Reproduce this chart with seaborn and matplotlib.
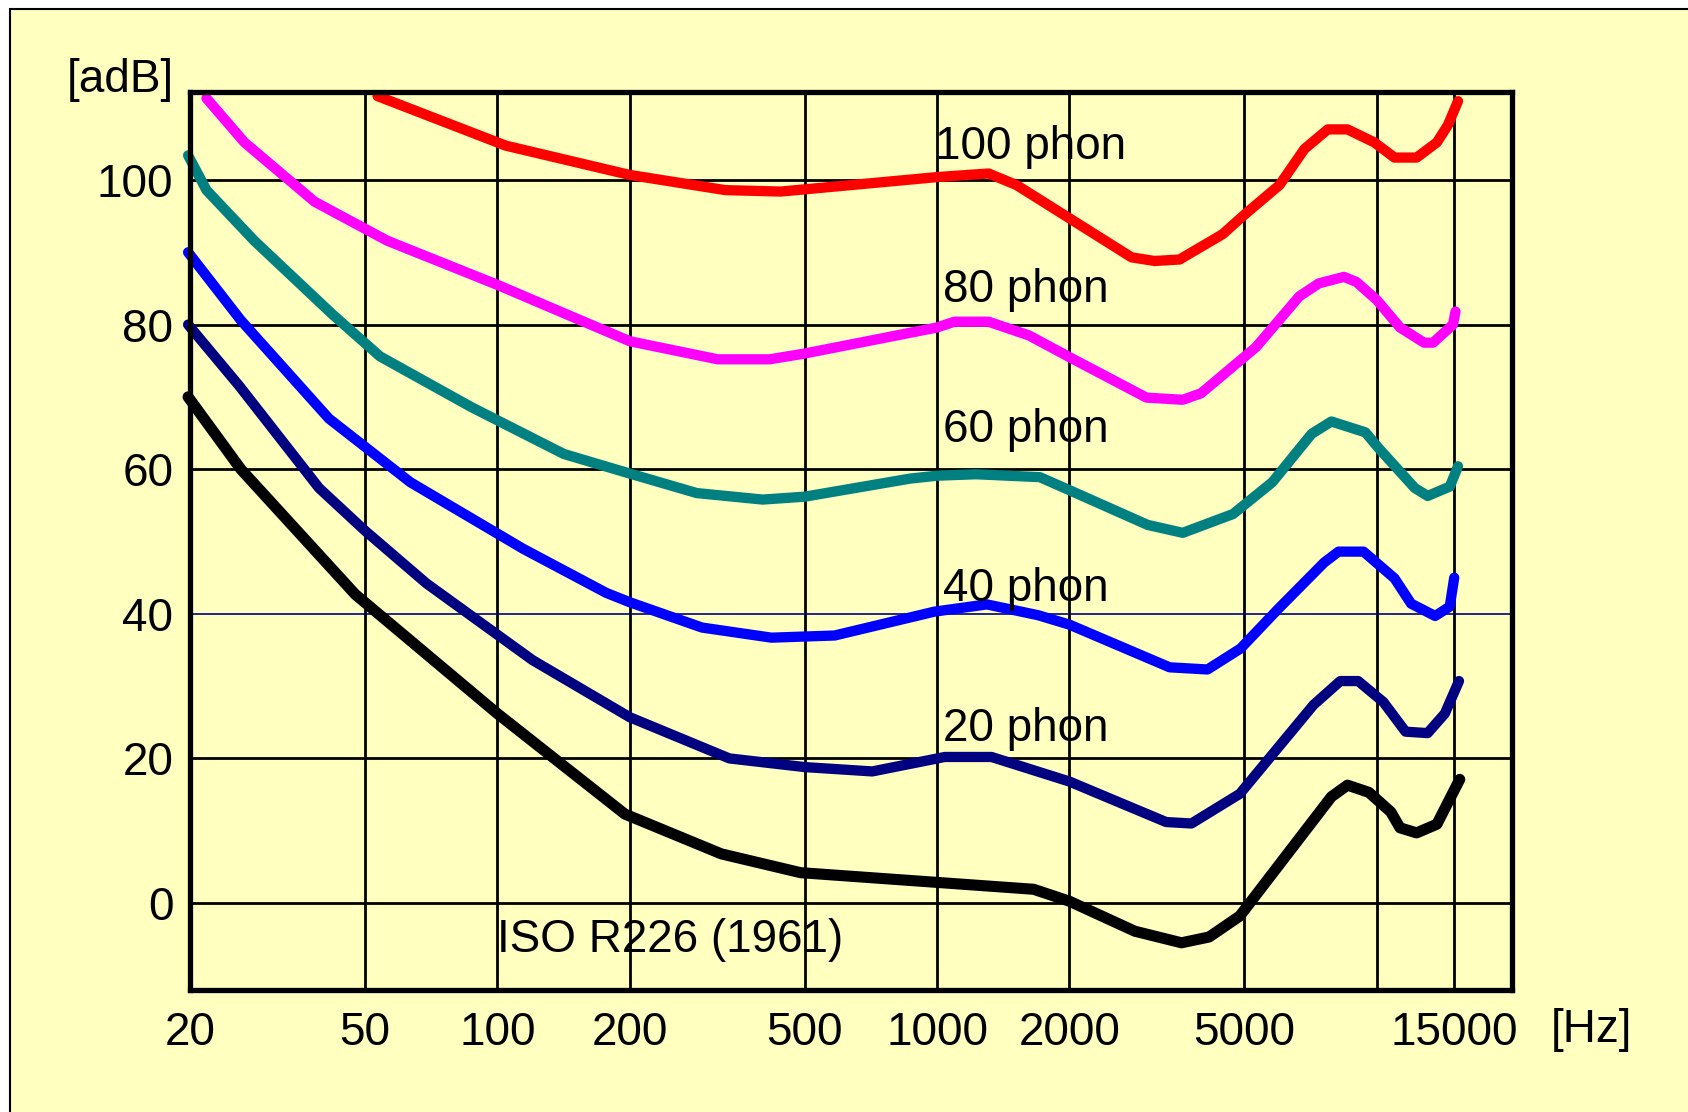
import matplotlib
matplotlib.use("Agg")
import matplotlib.pyplot as plt
import matplotlib.patches as mpatches
import pandas as pd
import seaborn as sns

hz_100 = [53.4, 104.5, 200, 330, 441, 1000, 1309, 1516, 2000, 2769, 3124, 3559, 4460, 5000,
          6008, 6849, 7737, 8578, 9870, 10971, 12320, 13698, 14515, 15300]
db_100 = [111.6, 104.75, 100.7, 98.6, 98.4, 100.4, 100.9, 99.3, 94.7, 89.3, 88.8, 89.0, 92.5, 95.2,
          99.3, 104.3, 107.0, 107.0, 105.2, 103.1, 103.1, 105.2, 107.6, 110.9]

hz_80 = [21.8, 26.6, 38.4, 56.2, 100, 200, 317, 416, 500, 1000, 1094, 1309, 1618, 2000, 2994,
         3620, 3984, 5316, 6662, 7382, 8418, 8988, 10000, 11293, 12808, 13430, 14900, 15100]
db_80 = [111.3, 105.2, 97.0, 91.6, 85.5, 77.7, 75.2, 75.2, 76.0, 79.6, 80.4, 80.4, 78.5, 75.5, 69.9,
         69.6, 70.5, 76.9, 83.9, 85.7, 86.6, 85.9, 83.4, 79.6, 77.5, 77.5, 80.0, 81.8]

hz_60 = [19.8, 21.8, 28, 42.2, 54.1, 87.2, 141.7, 200, 284, 401, 500, 868, 1000, 1226, 1713, 2000,
         3011, 3620, 4710, 5786, 7111, 7884, 9420, 10100, 12200, 13050, 14658, 15300]
db_60 = [103.4, 98.6, 91.6, 81.4, 75.6, 68.6, 62.1, 59.4, 56.7, 55.8, 56.2, 58.7, 59.1, 59.3, 58.9, 57.1,
         52.3, 51.2, 53.8, 58.2, 64.9, 66.6, 65.1, 62.9, 57.4, 56.3, 57.6, 60.4]

hz_40 = [19.8, 26.1, 41.4, 63.4, 114.4, 176.8, 200, 292, 420, 585, 986, 1298, 1699, 2000, 3379,
         4121, 4900, 5951, 7594, 8185, 9330, 10975, 11970, 13575, 14650, 15000]
db_40 = [90.0, 80.6, 67.0, 58.2, 49.0, 42.9, 41.6, 38.1, 36.7, 37.0, 40.3, 41.3, 39.8, 38.5, 32.6,
         32.3, 35.2, 40.6, 47.1, 48.6, 48.6, 44.9, 41.4, 39.7, 41.0, 45.0]

hz_20 = [19.8, 25.9, 39.3, 50, 69, 120.2, 200, 337, 500, 712, 1041, 1330, 2000, 3318, 3789, 4880,
         7179, 8261, 9071, 10350, 11625, 13050, 14280, 15380]
db_20 = [80.0, 71.5, 57.4, 51.5, 44.2, 33.6, 25.7, 20.0, 18.8, 18.2, 20.2, 20.2, 16.8, 11.2, 11.0, 15.1,
         27.4, 30.7, 30.7, 27.8, 23.7, 23.5, 26.2, 30.7]

hz_0 = [19.8, 26.1, 47.5, 100, 195, 323, 489, 1658, 2000, 2817, 3596, 4155, 4880, 7884, 8578, 9598,
        10761, 11293, 12320, 13698, 15440]
db_0 = [70.0, 60.0, 42.7, 26.2, 12.3, 6.8, 4.2, 1.9, 0.25, -3.9, -5.5, -4.7, -1.8, 14.7, 16.3, 15.3,
        12.6, 10.4, 9.7, 10.9, 17.1]

curve_names = ['100 phon', '80 phon', '60 phon', '40 phon', '20 phon', 'threshold']
curve_colors = ['#FF0000', '#FF00FF', '#008080', '#0000FF', '#000080', '#000000']
curve_hz = [hz_100, hz_80, hz_60, hz_40, hz_20, hz_0]
curve_db = [db_100, db_80, db_60, db_40, db_20, db_0]

label_hz = [990, 1030, 1030, 1030, 1030]
label_db = [104.6, 84.8, 65.4, 43.4, 24.0]

x_ticks = [20, 50, 100, 200, 500, 1000, 2000, 5000, 10000, 15000]
x_tick_labels = ['20', '50', '100', '200', '500', '1000', '2000', '5000', '', '15000']
y_ticks = [0, 20, 40, 60, 80, 100]

PAPER = '#FFFFBF'

df = pd.concat([pd.DataFrame({'hz': h, 'db': d, 'curve': n})
                for h, d, n in zip(curve_hz, curve_db, curve_names)], ignore_index=True)

sns.set_theme(style='white')
plt.rcParams['font.family'] = ['Liberation Sans', 'DejaVu Sans']
plt.rcParams['text.color'] = 'black'

fig = plt.figure(figsize=(16.88, 11.12), dpi=100, facecolor='white')
fig.patches.append(mpatches.Rectangle((10 / 1688, -0.05), 1.2, 1.05 - 9 / 1112,
                                      transform=fig.transFigure, facecolor=PAPER,
                                      edgecolor='black', linewidth=1.5, zorder=-10))
ax = fig.add_axes([190 / 1688, 1 - 990 / 1112, 1322 / 1688, 898 / 1112])
ax.set_facecolor(PAPER)

sns.lineplot(data=df, x='hz', y='db', hue='curve', hue_order=curve_names,
             palette=dict(zip(curve_names, curve_colors)), estimator=None, sort=False,
             legend=False, ax=ax, clip_on=False)
for line in ax.lines:
    line.set_linewidth(7.4)
    line.set_solid_capstyle('round')
    line.set_solid_joinstyle('round')
ax.lines[-1].set_linewidth(8.0)

ax.set_xscale('log')
ax.set_xlim(20, 20300)
ax.set_ylim(-12.03, 112.17)
ax.set_xticks(x_ticks)
ax.set_xticklabels(x_tick_labels)
ax.minorticks_off()
ax.set_yticks(y_ticks)
ax.tick_params(axis='both', length=0, labelsize=33, colors='black')
ax.tick_params(axis='x', pad=15)
ax.tick_params(axis='y', pad=12)
ax.set_xlabel('')
ax.set_ylabel('')

ax.set_axisbelow(True)
ax.grid(True, color='black', linewidth=2.0)
ax.yaxis.get_gridlines()[2].set_color('#000080')
ax.yaxis.get_gridlines()[2].set_linewidth(1.2)
for spine in ax.spines.values():
    spine.set_visible(True)
    spine.set_color('black')
    spine.set_linewidth(3.8)

for name, hz, db in zip(curve_names, label_hz, label_db):
    ax.text(hz, db, name, fontsize=33, ha='left', va='center', color='black')
ax.text(100, -5.1, 'ISO R226 (1961)', fontsize=33, ha='left', va='center', color='black')

fig.text(120 / 1688, 1 - 80 / 1112, '[adB]', fontsize=33, ha='center', va='center', color='black')
fig.text(1591 / 1688, 1 - 1030 / 1112, '[Hz]', fontsize=33, ha='center', va='center', color='black')

fig.savefig('out.png', dpi=100, facecolor=fig.get_facecolor())
